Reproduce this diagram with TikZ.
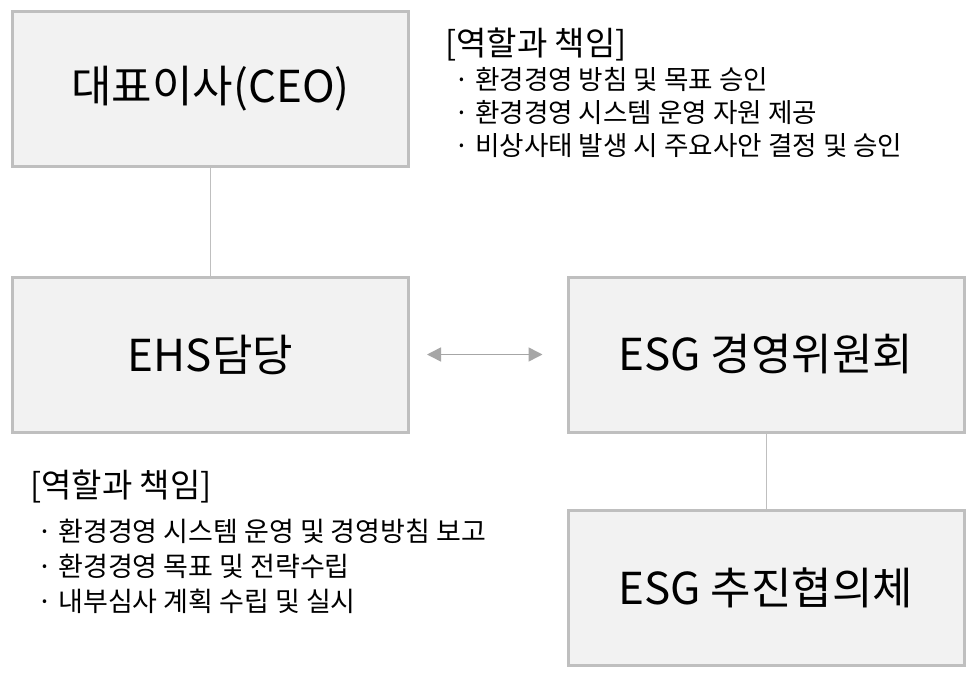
\documentclass[tikz,border=0pt]{standalone}
\usepackage{fontspec}
\setmainfont{Noto Sans CJK KR}
\usetikzlibrary{arrows.meta}
\definecolor{boxfill}{HTML}{F2F2F2}
\definecolor{boxline}{HTML}{BFBFBF}
\definecolor{arrowgray}{HTML}{A6A6A6}
\tikzset{
  orgbox/.style={draw=boxline, fill=boxfill, line width=3pt, minimum width=396pt, minimum height=155pt, inner sep=0pt, font=\fontsize{44}{50}\selectfont},
  roletitle/.style={anchor=base west, inner sep=0pt, font=\fontsize{33}{36}\selectfont},
  roleitem/.style={anchor=base west, inner sep=0pt, font=\fontsize{26.6}{30}\selectfont},
  link/.style={draw=boxline, line width=1pt}
}
\begin{document}
\begin{tikzpicture}[x=1pt, y=-1pt]
    \useasboundingbox[fill=white](0,0) rectangle (978,682);
    \node[orgbox](ceo) at (210.5,89) {대표이사(CEO)};
    \node[orgbox](ehs) at (210.5,354.5) {EHS담당};
    \node[orgbox](esgcom) at (766,354.5) {ESG 경영위원회};
    \node[orgbox](esgcouncil) at (766,587.5) {ESG 추진협의체};
    \draw[link](ceo)--(ehs);
    \draw[link](esgcom)--(esgcouncil);
    \draw[{Triangle[length=14pt,width=14pt]}-{Triangle[length=14pt,width=14pt]}, arrowgray, line width=1.5pt, shorten <=17pt, shorten >=24pt](ehs)--(esgcom);
    % CEO roles
    \node[roletitle](ceotitle) at (445,56) {[역할과 책임]};
\foreach \t [count=\i] in {환경경영 방침 및 목표 승인, 환경경영 시스템 운영 자원 제공, 비상사태 발생 시 주요사안 결정 및 승인}
{
    \node[roleitem](ceoitem\i) at (454,57+33*\i) {· \t};
}
    % EHS roles
    \node[roletitle](ehstitle) at (30,497) {[역할과 책임]};
\foreach \t [count=\i] in {환경경영 시스템 운영 및 경영방침 보고, 환경경영 목표 및 전략수립, 내부심사 계획 수립 및 실시}
{
    \node[roleitem, font=\fontsize{27}{30}\selectfont](ehsitem\i) at (37,506+35*\i) {· \t};
}
\end{tikzpicture}
\end{document}
